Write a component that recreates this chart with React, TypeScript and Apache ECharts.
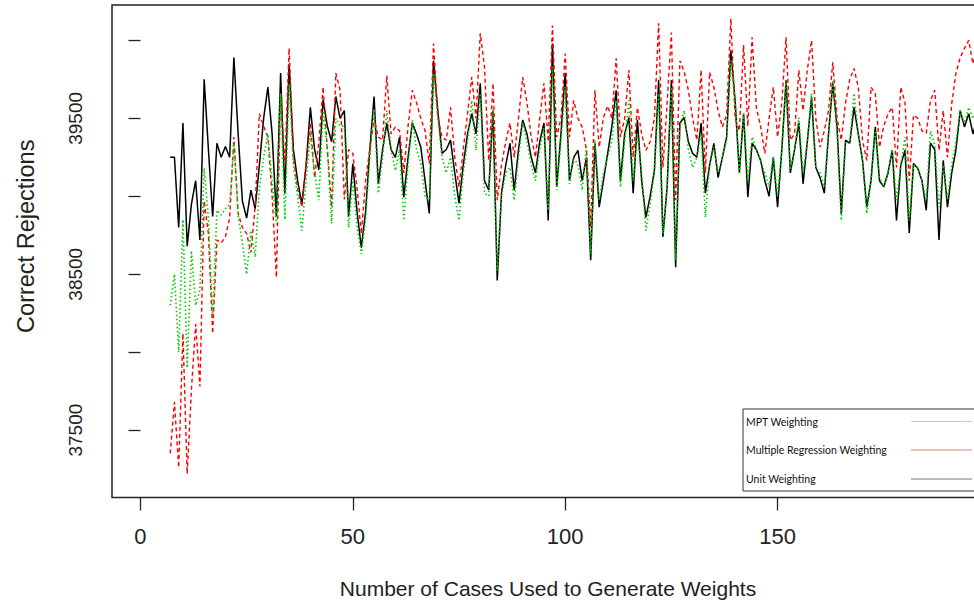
import React, { useEffect, useRef } from "react";
import * as echarts from "echarts";

// Number of cases used to generate weights: first value of the run
const firstCase = 7;

const xTickValues = [0, 50, 100, 150];
const yTickValues = [37500, 38000, 38500, 39000, 39500, 40000];
const yLabelValues = [37500, 38500, 39500];

const legendNames = ["MPT Weighting", "Multiple Regression Weighting", "Unit Weighting"];

// Unit Weighting (black, solid), cases 7..197
const unitWeighting = [
  39250, 39250, 38800, 39470, 38680, 38950, 39100, 38720, 39750, 39300,
  38870, 39340, 39250, 39320, 39250, 39890, 39400, 38970, 38860, 39040,
  38920, 39200, 39500, 39700, 39400, 38870, 39790, 39020, 39850, 39300,
  39100, 38950, 39200, 39570, 39300, 39170, 39620, 39450, 39350, 39640,
  39500, 39550, 38870, 39210, 38900, 38670, 38900, 39300, 39640, 39080,
  39300, 39470, 39300, 39250, 39380, 38995, 39250, 39470, 39400, 39315,
  39100, 38890, 39870, 39550, 39275, 39300, 39360, 39150, 38955, 39200,
  39400, 39530, 39400, 39725, 39100, 39040, 39550, 38460, 39020, 39200,
  39340, 39040, 39300, 39490, 39400, 39250, 39150, 39350, 39470, 38845,
  39980, 39060, 39400, 39790, 39100, 39250, 39295, 39100, 39250, 38590,
  39340, 38930, 39100, 39275, 39450, 39680, 39100, 39400, 39505, 39020,
  39490, 39100, 38865, 39000, 39165, 39745, 38740, 39060, 39745, 38545,
  39470, 39505, 39350, 39275, 39250, 39470, 39020, 39200, 39340, 39120,
  39250, 39380, 39935, 39615, 39150, 39530, 38995, 39340, 39300, 39230,
  39100, 39000, 39250, 38930, 39300, 39745, 39150, 39300, 39470, 39080,
  39350, 39635, 39185, 39120, 39020, 39400, 39725, 39445, 38890, 39360,
  39340, 39570, 39400, 39230, 38930, 39100, 39445, 39100, 39060, 39150,
  39295, 38845, 39200, 39295, 38765, 39210, 39180, 39100, 38910, 39340,
  39300, 38720, 39230, 38930, 39150, 39300, 39550, 39445, 39530, 39400, 39500,
];

// Multiple Regression Weighting (red, dashed), cases 7..197
const regressionWeighting = [
  37350, 37680, 37260, 38120, 37220, 37760, 38180, 37780, 38970, 38760,
  38120, 38720, 38700, 38740, 38860, 39380, 38890, 38800, 38760, 38640,
  38930, 39530, 39450, 39380, 39000, 38480, 39660, 39200, 39950, 39250,
  39050, 38930, 39200, 39470, 39120, 39350, 39700, 39300, 38930, 39790,
  39680, 38980, 39300, 39275, 39050, 38760, 39100, 39300, 39500, 39380,
  39360, 39775, 39400, 39445, 39420, 39150, 39450, 39680, 39600, 39500,
  39420, 39210, 39980, 39510, 39380, 39360, 39570, 39250, 39060, 39300,
  39530, 39765, 39500, 40045, 39830, 39230, 39725, 38975, 39200, 39350,
  39470, 39250, 39500, 39765, 39600, 39380, 39250, 39500, 39725, 39350,
  40095, 39380, 39500, 39915, 39380, 39615, 39500, 39445, 39300, 38800,
  39680, 39315, 39505, 39580, 39500, 39885, 39380, 39500, 39810, 39250,
  39570, 39400, 39295, 39350, 39500, 40110, 39185, 39600, 40050, 38975,
  39870, 39800, 39680, 39500, 39360, 39810, 39150, 39795, 39700, 39550,
  39445, 39520, 40140, 39500, 39420, 39970, 39450, 40020, 39570, 39450,
  39275, 39500, 39700, 39380, 39600, 40020, 39360, 39400, 39810, 39550,
  39810, 40000, 39500, 39315, 39420, 39550, 39860, 39500, 39360, 39600,
  39750, 39820, 39700, 39360, 39230, 39700, 39660, 39315, 39450, 39530,
  39570, 39185, 39700, 39600, 39100, 39520, 39500, 39420, 39405, 39615,
  39680, 39295, 39550, 39250, 39595, 39790, 39890, 39950, 40000, 39850, 39950,
];

// MPT Weighting (green, dotted), cases 7..197
const mptWeighting = [
  38300, 38500, 38000, 38850, 37900, 38650, 38300, 38400, 39180, 38860,
  38230, 38910, 38880, 38920, 38950, 39340, 38880, 38700, 38500, 38780,
  38610, 39050, 39250, 39400, 39100, 38820, 39660, 38850, 39720, 39200,
  39000, 38780, 39100, 39400, 39150, 38975, 39550, 39300, 38825, 39500,
  39450, 39450, 38800, 39100, 38800, 38630, 38850, 39250, 39560, 39020,
  39250, 39550, 39300, 39165, 39300, 38845, 39200, 39490, 39300, 39210,
  39000, 38975, 39790, 39500, 39250, 39150, 39250, 39000, 38845, 39150,
  39350, 39615, 39295, 39660, 39020, 39000, 39550, 38525, 39000, 39150,
  39185, 38975, 39250, 39470, 39350, 39200, 39100, 39300, 39445, 38910,
  39830, 39040, 39350, 39700, 39080, 39250, 39200, 39040, 39315, 38630,
  39360, 38975, 39150, 39250, 39360, 39615, 39060, 39350, 39615, 39100,
  39400, 39150, 38780, 38950, 39150, 39660, 38760, 39050, 39700, 38590,
  39450, 39550, 39300, 39185, 39250, 39400, 38865, 39200, 39315, 39150,
  39250, 39360, 39870, 39600, 39150, 39530, 39100, 39380, 39300, 39230,
  39150, 39060, 39250, 39000, 39300, 39745, 39170, 39300, 39505, 39150,
  39350, 39660, 39185, 39150, 39060, 39400, 39745, 39400, 38845, 39340,
  39340, 39660, 39400, 39230, 38890, 39100, 39420, 39120, 39060, 39150,
  39300, 38975, 39200, 39380, 38845, 39200, 39180, 39100, 38975, 39420,
  39330, 38930, 39200, 38975, 39200, 39350, 39550, 39470, 39570, 39500, 39550,
];

const toPoints = (vals: number[]) => vals.map((v, i) => [firstCase + i, v]);

const FONT = "'Liberation Sans', Arial, sans-serif";

export default function App() {
  const ref = useRef<HTMLDivElement>(null);
  useEffect(() => {
    document.body.style.overflow = "hidden";
    const chart = echarts.init(ref.current!, null, { renderer: "svg" });
    const legendTop = 409;
    const legendRows = [421.5, 450, 479];
    const legendColors = ["#bfe06a", "#f27a7a", "#7a7a7a"];
    const graphics: any[] = [
      {
        type: "rect",
        shape: { x: 743, y: legendTop, width: 260, height: 82 },
        style: { fill: "#fff", stroke: "#333", lineWidth: 1 },
        z: 100,
      },
    ];
    legendNames.forEach((name, i) => {
      graphics.push({
        type: "text",
        x: 746,
        y: legendRows[i],
        style: {
          text: name,
          fill: "#111",
          font: "10.5px Lato, 'Noto Sans', sans-serif",
          verticalAlign: "middle",
        },
        z: 101,
      });
      graphics.push({
        type: "line",
        shape: { x1: 911, y1: legendRows[i], x2: 972, y2: legendRows[i] },
        style: { stroke: legendColors[i], lineWidth: 1 },
        z: 101,
      });
    });

    chart.setOption({
      animation: false,
      backgroundColor: "#fff",
      grid: {
        left: 112,
        top: 5,
        width: 872,
        height: 492.5,
        show: true,
        borderColor: "#222",
        borderWidth: 1.5,
        backgroundColor: "transparent",
      },
      xAxis: {
        type: "value",
        min: -6.7,
        max: 198.6,
        name: "Number of Cases Used to Generate Weights",
        nameLocation: "middle",
        nameGap: 80,
        nameTextStyle: { fontFamily: FONT, fontSize: 21, color: "#222" },
        axisLine: { show: false },
        axisTick: {
          show: true,
          length: 13,
          customValues: xTickValues,
          lineStyle: { color: "#222", width: 1.3 },
        },
        axisLabel: {
          customValues: xTickValues,
          formatter: (v: number) => String(v),
          fontFamily: FONT,
          fontSize: 22,
          color: "#222",
          margin: 28,
        },
        splitLine: { show: false },
      },
      yAxis: {
        type: "value",
        min: 37068,
        max: 40227,
        name: "Correct Rejections",
        nameLocation: "middle",
        nameGap: 74,
        nameTextStyle: {
          fontFamily: FONT,
          fontSize: 23.5,
          color: "#222",
          padding: [0, 0, 0, 30],
        },
        axisLine: { show: false },
        axisTick: {
          show: true,
          length: 12,
          customValues: yTickValues,
          lineStyle: { color: "#222", width: 1.3 },
        },
        axisLabel: {
          customValues: yLabelValues,
          formatter: (v: number) => String(v),
          rotate: 90,
          fontFamily: FONT,
          fontSize: 19,
          color: "#222",
          margin: 27,
        },
        splitLine: { show: false },
      },
      series: [
        {
          name: legendNames[2],
          type: "line",
          data: toPoints(unitWeighting),
          showSymbol: false,
          symbol: "none",
          lineStyle: { color: "#000", width: 1.5 },
          z: 2,
        },
        {
          name: legendNames[1],
          type: "line",
          data: toPoints(regressionWeighting),
          showSymbol: false,
          symbol: "none",
          lineStyle: { color: "#ff0000", width: 1.4, type: [4, 3] },
          z: 3,
        },
        {
          name: legendNames[0],
          type: "line",
          data: toPoints(mptWeighting),
          showSymbol: false,
          symbol: "none",
          lineStyle: { color: "#00cd00", width: 1.6, type: [1.5, 2.5] },
          z: 4,
        },
      ],
      graphic: graphics,
    });
    return () => chart.dispose();
  }, []);
  return (
    <div
      ref={ref}
      style={{ position: "fixed", left: 0, top: 0, width: 1000, height: 606 }}
    />
  );
}
